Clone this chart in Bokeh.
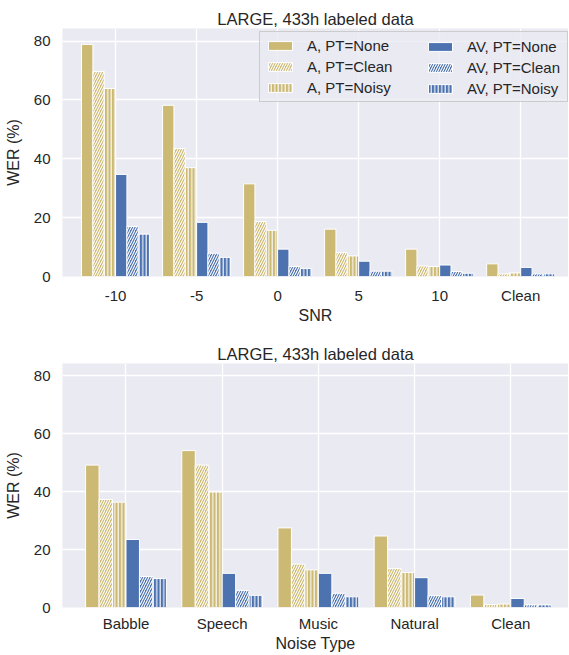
from bokeh.plotting import figure
from bokeh.models import ColumnDataSource, Range1d, FixedTicker, Legend, LegendItem
from bokeh.layouts import column
from bokeh.transform import dodge
from bokeh.embed import file_html
from bokeh.resources import INLINE

# ---- data ----
snr_labels = ["-10", "-5", "0", "5", "10", "Clean"]
snr_a_none = [78.9, 58.2, 31.5, 16.1, 9.3, 4.3]
snr_a_clean = [69.7, 43.5, 18.7, 8.1, 3.6, 0.9]
snr_a_noisy = [63.9, 37.0, 15.7, 7.0, 3.4, 1.2]
snr_av_none = [34.7, 18.4, 9.3, 5.2, 3.9, 3.1]
snr_av_clean = [17.0, 7.9, 3.4, 1.8, 1.7, 0.9]
snr_av_noisy = [14.4, 6.5, 2.7, 1.8, 1.1, 0.9]

noise_labels = ["Babble", "Speech", "Music", "Natural", "Clean"]
noise_a_none = [49.2, 54.2, 27.5, 24.7, 4.3]
noise_a_clean = [37.3, 49.2, 15.0, 13.5, 1.0]
noise_a_noisy = [36.4, 39.9, 13.0, 12.1, 1.2]
noise_av_none = [23.5, 11.8, 11.8, 10.3, 3.1]
noise_av_clean = [10.7, 5.9, 4.9, 4.1, 0.9]
noise_av_noisy = [10.0, 4.2, 3.7, 3.7, 0.9]

series_names = ["A, PT=None", "A, PT=Clean", "A, PT=Noisy",
                "AV, PT=None", "AV, PT=Clean", "AV, PT=Noisy"]
y_ticks = [0, 20, 40, 60, 80]
title_text = "LARGE, 433h labeled data"

# ---- style ----
GOLD = "#CCB974"
BLUE = "#4C72B0"
BG = "#EAEAF2"
TXT = "#262626"
FONT = "Liberation Sans"
colors = [GOLD, GOLD, GOLD, BLUE, BLUE, BLUE]
hatches = [" ", "/", "|", " ", "/", "|"]
hatch_scales = [1, 5, 3.5, 1, 5, 3.5]
BAR_W = 0.14


def legend_style(**kw):
    base = dict(label_text_font=FONT, label_text_font_size="15px",
                label_text_color=TXT, glyph_width=30, glyph_height=11,
                label_standoff=12, label_height=17, spacing=4, padding=5,
                margin=0, orientation="vertical", background_fill_color=BG,
                border_line_color="#CCCCCC", border_line_width=1)
    base.update(kw)
    return base


def make_fig(labels, series, x_range, xlabel, height, b_top, b_bottom,
             title_standoff, x_label_standoff, legend):
    p = figure(width=568, height=height, output_backend="svg", toolbar_location=None,
               x_range=Range1d(*x_range), y_range=Range1d(0, 84.3),
               min_border_left=62, min_border_right=0,
               min_border_top=b_top, min_border_bottom=b_bottom)
    p.background_fill_color = BG
    p.border_fill_color = "white"
    p.outline_line_color = None

    data = {"x": list(range(len(labels)))}
    for i, s in enumerate(series):
        data["s%d" % i] = s
    src = ColumnDataSource(data)

    items = []
    for i in range(6):
        off = (i - 2.5) * BAR_W
        r = p.vbar(x=dodge("x", off), top="s%d" % i, width=BAR_W, bottom=0, source=src,
                   fill_color=colors[i], line_color="white", line_width=1,
                   hatch_pattern=hatches[i], hatch_color="white",
                   hatch_scale=hatch_scales[i], hatch_weight=1.1, hatch_alpha=1.0)
        items.append(LegendItem(label=series_names[i], renderers=[r]))

    if legend:
        # first column carries the frame of the whole legend box
        lg1 = Legend(items=items[:3], location=(197, 174), label_width=255,
                     background_fill_alpha=0.8, border_line_alpha=1.0,
                     **legend_style())
        # second column: same box model, but invisible frame/background
        lg2 = Legend(items=items[3:], location=(358, 174),
                     background_fill_alpha=0.0, border_line_alpha=0.0,
                     **legend_style())
        p.add_layout(lg1)
        p.add_layout(lg2)

    p.title.text = title_text
    p.title.align = "center"
    p.title.text_font = FONT
    p.title.text_font_size = "16.5px"
    p.title.text_font_style = "normal"
    p.title.text_color = TXT
    p.title.standoff = title_standoff

    p.xaxis.ticker = FixedTicker(ticks=list(range(len(labels))))
    p.xaxis.major_label_overrides = {i: l for i, l in enumerate(labels)}
    p.yaxis.ticker = FixedTicker(ticks=y_ticks)
    p.xaxis.axis_label = xlabel
    p.yaxis.axis_label = "WER (%)"
    for ax in (p.xaxis, p.yaxis):
        ax.axis_line_color = None
        ax.major_tick_line_color = None
        ax.minor_tick_line_color = None
        ax.major_tick_out = 0
        ax.major_tick_in = 0
        ax.major_label_text_font = FONT
        ax.major_label_text_font_size = "15px"
        ax.major_label_text_color = TXT
        ax.axis_label_text_font = FONT
        ax.axis_label_text_font_size = "16px"
        ax.axis_label_text_font_style = "normal"
        ax.axis_label_text_color = TXT
    p.xaxis.major_label_standoff = x_label_standoff
    p.xaxis.axis_label_standoff = 0
    p.yaxis.major_label_standoff = 12
    p.yaxis.axis_label_standoff = 9

    p.xgrid.grid_line_color = "white"
    p.ygrid.grid_line_color = "white"
    p.xgrid.grid_line_width = 1.3
    p.ygrid.grid_line_width = 1.3
    p.xgrid.ticker = FixedTicker(ticks=list(range(len(labels))))
    p.ygrid.ticker = FixedTicker(ticks=y_ticks)
    return p


p1 = make_fig(snr_labels,
              [snr_a_none, snr_a_clean, snr_a_noisy, snr_av_none, snr_av_clean, snr_av_noisy],
              (-0.655, 5.59), "SNR", 330, 28, 54, 2, 10, True)
p2 = make_fig(noise_labels,
              [noise_a_none, noise_a_clean, noise_a_noisy, noise_av_none, noise_av_clean, noise_av_noisy],
              (-0.66, 4.6), "Noise Type", 324, 33, 43, 1, 7, False)

layout = column(p1, p2)
open("out.html", "w").write(file_html(layout, INLINE))
